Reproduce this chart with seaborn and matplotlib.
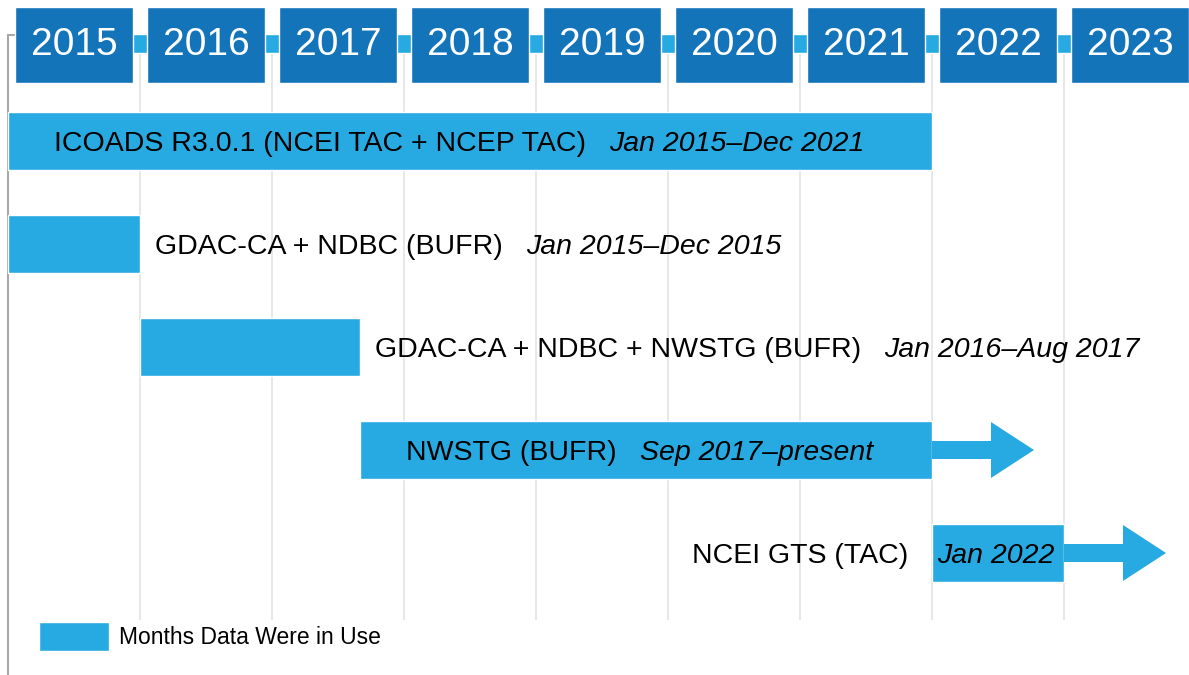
import matplotlib
matplotlib.use("Agg")
import matplotlib.pyplot as plt
from matplotlib.patches import Polygon
import seaborn as sns

# ---------------- data ----------------
years = [2015, 2016, 2017, 2018, 2019, 2020, 2021, 2022, 2023]
sources = [
    "ICOADS R3.0.1 (NCEI TAC + NCEP TAC)",
    "GDAC-CA + NDBC (BUFR)",
    "GDAC-CA + NDBC + NWSTG (BUFR)",
    "NWSTG (BUFR)",
    "NCEI GTS (TAC)",
]
periods = [
    "Jan 2015\u2013Dec 2021",
    "Jan 2015\u2013Dec 2015",
    "Jan 2016\u2013Aug 2017",
    "Sep 2017\u2013present",
    "Jan 2022",
]
start = [2015.0, 2015.0, 2016.0, 2017 + 8 / 12, 2022.0]
end = [2022.0, 2016.0, 2017 + 8 / 12, 2022.0, 2023.0]
ongoing = [False, False, False, True, True]
label_place = ["inside", "after", "after", "inside", "before"]
legend_label = "Months Data Were in Use"

# ---------------- style ----------------
sns.set_style("white")
plt.rcParams["font.family"] = ["Liberation Sans", "DejaVu Sans"]
plt.rcParams["text.color"] = "black"

LIGHT = "#27AAE1"
DARK = "#1474BA"
GRID = "#E3E3E3"
FRAME = "#A8A8A8"

W, H = 1189, 675
PX_PER_YEAR = 132.0
X0_PX = 8.0
ROW0_PX, ROW_PX = 141.0, 103.0


def yr(px):
    return 2015 + (px - X0_PX) / PX_PER_YEAR


def dyr(px):
    return px / PX_PER_YEAR


def row(py):
    return (py - ROW0_PX) / ROW_PX


def drow(py):
    return py / ROW_PX


def pt(px):
    return px * 72.0 / 100.0


fig = plt.figure(figsize=(W / 100, H / 100), dpi=100)
ax = fig.add_axes([0, 0, 1, 1])
ax.set_xlim(yr(0), yr(W))
ax.set_ylim(row(H), row(0))
ax.axis("off")

rows = list(range(len(sources)))

# vertical year separators
ax.vlines(years[1:], row(53), row(620), color=GRID, lw=1.2, zorder=0)

# left frame line with small tick
ax.plot([yr(7.5), yr(7.5), yr(16)], [row(H), row(35), row(35)],
        color=FRAME, lw=1.5, zorder=1, solid_joinstyle="miter")

# connecting band behind year boxes
ax.barh(row(43.5), yr(W + 5) - yr(16), left=yr(16), height=drow(19),
        color=LIGHT, zorder=1)

# year boxes
box_w = dyr(118)
ax.barh([row(45)] * len(years), [box_w] * len(years),
        left=[y + 0.5 - box_w / 2 for y in years], height=drow(76),
        color=DARK, zorder=3)
for y in years:
    ax.annotate(str(y), xy=(y + 0.5, row(45)), xytext=(0, pt(-10)),
                textcoords="offset points", ha="center", va="baseline",
                color="white", fontsize=28, zorder=4)

# data bars
widths = [e - s for s, e in zip(start, end)]
ax.barh(rows, widths, left=start, height=drow(58), color=LIGHT,
        zorder=2, label=legend_label)

# arrows for ongoing sources
shaft, L1, L2, head = drow(18), dyr(59), dyr(43), drow(56)
for r, e, on in zip(rows, end, ongoing):
    if not on:
        continue
    pts = [(e, r - shaft / 2), (e + L1, r - shaft / 2), (e + L1, r - head / 2),
           (e + L1 + L2, r), (e + L1, r + head / 2), (e + L1, r + shaft / 2),
           (e, r + shaft / 2)]
    ax.add_patch(Polygon(pts, closed=True, facecolor=LIGHT, edgecolor="none",
                         zorder=2))

# labels
FS = 20.5
base = pt(-10)
for r, s, e, name, per, place in zip(rows, start, end, sources, periods,
                                     label_place):
    if place == "inside":
        t = ax.annotate(name, xy=(s, r), xytext=(pt(46), base),
                        textcoords="offset points", ha="left", va="baseline",
                        fontsize=FS, color="black", zorder=5)
    elif place == "after":
        t = ax.annotate(name, xy=(e, r), xytext=(pt(15), base),
                        textcoords="offset points", ha="left", va="baseline",
                        fontsize=FS, color="black", zorder=5)
    else:
        t = ax.annotate(name, xy=(s, r), xytext=(pt(-24), base),
                        textcoords="offset points", ha="right", va="baseline",
                        fontsize=FS, color="black", zorder=5)
    if place == "before":
        ax.annotate(per, xy=(s, r), xytext=(pt(5), base),
                    textcoords="offset points", ha="left", va="baseline",
                    fontsize=FS, style="italic", color="black", zorder=5)
    else:
        ax.annotate(per, xy=(1, 0), xycoords=t, xytext=(pt(23), 0),
                    textcoords="offset points", ha="left", va="bottom",
                    fontsize=FS, style="italic", color="black", zorder=5)

# legend
LFS = 16.5
lpx = LFS * 100 / 72
ax.legend(loc="upper left", bbox_to_anchor=(39 / W, 1 - 622 / H),
          frameon=False, borderpad=0, borderaxespad=0, fontsize=LFS,
          handlelength=70 / lpx, handleheight=36 / lpx,
          handletextpad=10 / lpx, labelcolor="black")

fig.savefig("out.png", dpi=100)
